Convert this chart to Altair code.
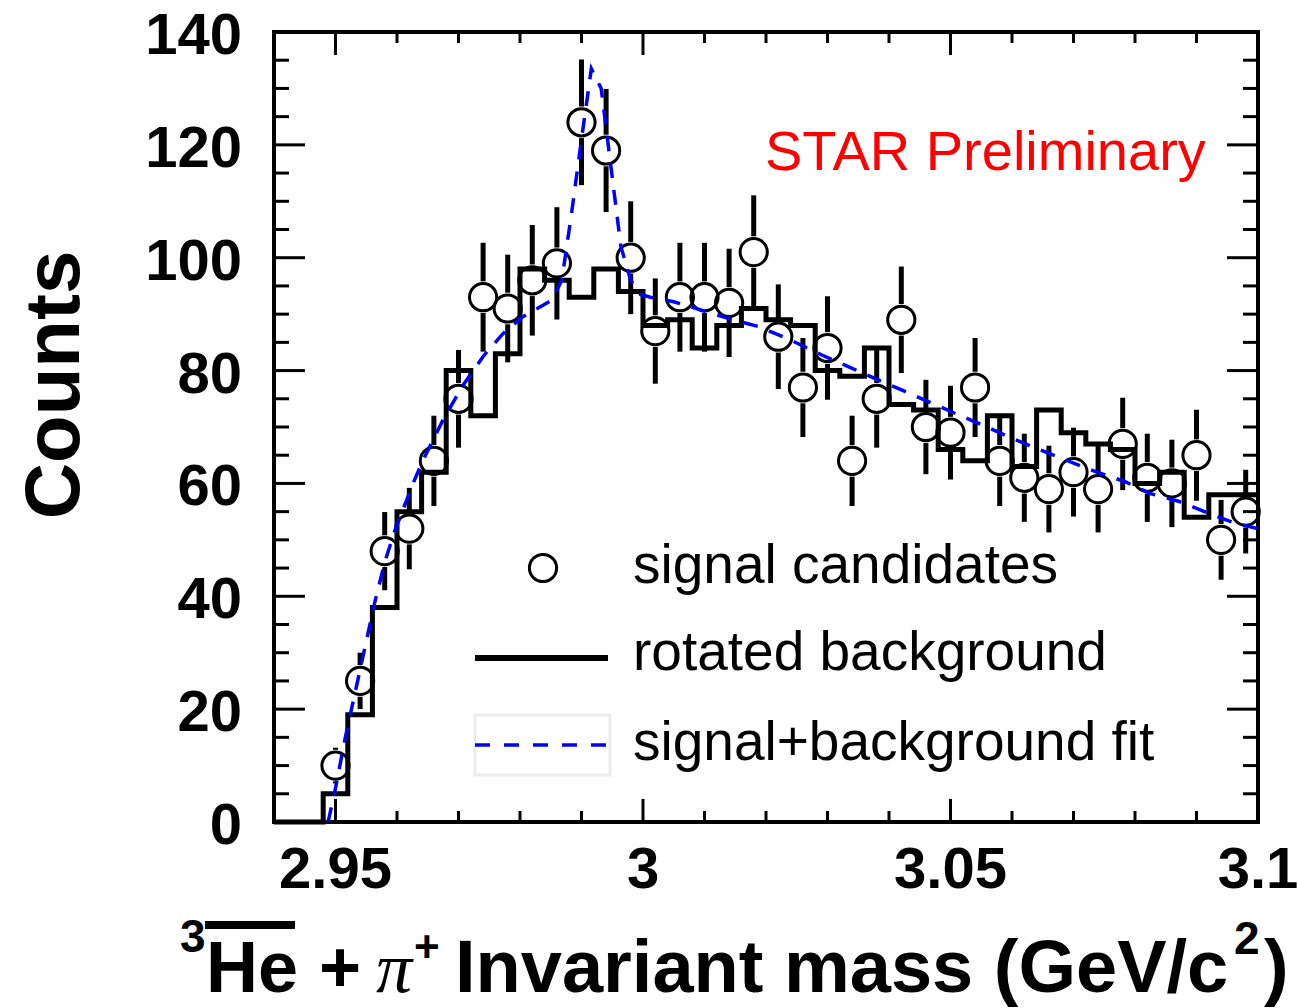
import altair as alt
import pandas as pd
import numpy as np

# ---------------- data ----------------
# rotated background histogram: lower bin edges (width 0.004 GeV/c^2) and counts
bkg_lo = [2.940, 2.944, 2.948, 2.952, 2.956, 2.960, 2.964, 2.968, 2.972, 2.976,
          2.980, 2.984, 2.988, 2.992, 2.996, 3.000, 3.004, 3.008, 3.012, 3.016,
          3.020, 3.024, 3.028, 3.032, 3.036, 3.040, 3.044, 3.048, 3.052, 3.056,
          3.060, 3.064, 3.068, 3.072, 3.076, 3.080, 3.084, 3.088, 3.092, 3.096]
bkg_counts = [0, 0, 5, 19, 38, 55, 62, 80, 72, 83,
              98, 96, 93, 98, 94, 88, 89, 84, 88, 91,
              89, 88, 80, 79, 84, 74, 73, 66, 64, 72,
              63, 73, 69, 67, 66, 60, 62, 54, 58, 58]
x_max = 3.1

# signal candidates (bin centres)
sig_mass = [2.950, 2.954, 2.958, 2.962, 2.966, 2.970, 2.974, 2.978, 2.982, 2.986,
            2.990, 2.994, 2.998, 3.002, 3.006, 3.010, 3.014, 3.018, 3.022, 3.026,
            3.030, 3.034, 3.038, 3.042, 3.046, 3.050, 3.054, 3.058, 3.062, 3.066,
            3.070, 3.074, 3.078, 3.082, 3.086, 3.090, 3.094, 3.098]
sig_counts = [10, 25, 48, 52, 64, 75, 93, 91, 96, 99,
              124, 119, 100, 87, 93, 93, 92, 101, 86, 77,
              84, 64, 75, 89, 70, 69, 77, 64, 61, 59,
              62, 59, 67, 61, 60, 65, 50, 55]

# signal + background fit (sampled points)
fit_mass = [2.9488, 2.9500, 2.9516, 2.9532, 2.9548, 2.9564, 2.9580, 2.9596, 2.9612, 2.9628,
            2.9644, 2.9660, 2.9676, 2.9692, 2.9708, 2.9724, 2.9740, 2.9756, 2.9772, 2.9788,
            2.9804, 2.9820, 2.9836, 2.9852, 2.9868, 2.9884, 2.9900, 2.9916, 2.9932, 2.9948,
            2.9964, 2.9980, 2.9996, 3.0012, 3.0050, 3.0095, 3.0140, 3.0188, 3.0240, 3.0290,
            3.0340, 3.0383, 3.0426, 3.0470, 3.0514, 3.0551, 3.0600, 3.0638, 3.0693, 3.0736,
            3.0784, 3.0825, 3.0872, 3.0913, 3.0964, 3.1000]
fit_counts = [0, 6, 15, 23, 31, 39, 46, 51.5, 56, 60.5,
              64.5, 68, 71.5, 74.5, 77.5, 80, 82.5, 84.5, 86.5, 88,
              89.5, 90.5, 91.5, 92.5, 96, 108, 121, 133.5, 130, 116,
              102, 96, 93.5, 93, 92.2, 90.7, 89.2, 87.8, 85.4, 82.8,
              80.4, 78.3, 76.3, 74.2, 72.1, 70.4, 68.0, 66.3, 63.9, 62.1,
              60.3, 58.2, 56.8, 55.0, 52.9, 52.0]

# axis ticks / labels
x_labels = [2.95, 3.0, 3.05, 3.1]
x_label_text = ["2.95", "3", "3.05", "3.1"]
x_major = [2.95, 3.0, 3.05]
x_minor = [2.96, 2.97, 2.98, 2.99, 3.01, 3.02, 3.03, 3.04, 3.06, 3.07, 3.08, 3.09]
y_labels = [0, 20, 40, 60, 80, 100, 120, 140]
y_label_text = ["0", "20", "40", "60", "80", "100", "120", "140"]
y_minor = [5, 10, 15, 25, 30, 35, 45, 50, 55, 65, 70, 75, 85, 90, 95,
           105, 110, 115, 125, 130, 135]

# ---------------- styling ----------------
W, H = 984, 790
FONT = "Liberation Sans"
GAP = 2.8  # error bar gap around marker, in counts
SYM = 740  # marker size

XS = alt.Scale(domain=[2.94, 3.1], nice=False, zero=False)
YS = alt.Scale(domain=[0, 140], nice=False, zero=False)


def xenc(field):
    return alt.X(field, scale=XS, axis=None)


def yenc(field):
    return alt.Y(field, scale=YS, axis=None)


# ---------------- tables ----------------
hist_df = pd.DataFrame({"x": bkg_lo + [x_max], "y": bkg_counts + [bkg_counts[-1]]})

sig = np.array(sig_counts, dtype=float)
err = np.sqrt(sig)
pts_df = pd.DataFrame({
    "x": sig_mass, "y": sig,
    "lo1": sig - err, "lo2": sig - GAP,
    "hi1": sig + GAP, "hi2": sig + err,
})
fit_df = pd.DataFrame({"x": fit_mass, "y": fit_counts})

hist = alt.Chart(hist_df).mark_line(
    interpolate="step-after", color="black", strokeWidth=5, strokeJoin="miter"
).encode(x=xenc("x:Q"), y=yenc("y:Q"))

err_up = alt.Chart(pts_df).mark_rule(color="black", strokeWidth=5).encode(
    x=xenc("x:Q"), y=yenc("hi1:Q"), y2="hi2:Q")
err_dn = alt.Chart(pts_df).mark_rule(color="black", strokeWidth=5).encode(
    x=xenc("x:Q"), y=yenc("lo2:Q"), y2="lo1:Q")

points = alt.Chart(pts_df).mark_point(
    shape="circle", size=SYM, filled=False, color="black", strokeWidth=3, opacity=1
).encode(x=xenc("x:Q"), y=yenc("y:Q"))

fit = alt.Chart(fit_df).mark_line(
    color="#0000ff", strokeWidth=3.5, strokeDash=[15, 12]
).encode(x=xenc("x:Q"), y=yenc("y:Q"))


# tick marks (inside the frame, on all four sides)
def xticks(vals, length):
    d = pd.DataFrame({"t": vals})
    bot = alt.Chart(d).mark_rule(color="black", strokeWidth=3).encode(
        x=xenc("t:Q"), y=alt.value(H), y2=alt.value(H - length))
    top = alt.Chart(d).mark_rule(color="black", strokeWidth=3).encode(
        x=xenc("t:Q"), y=alt.value(0), y2=alt.value(length))
    return [bot, top]


def yticks(vals, length):
    d = pd.DataFrame({"t": vals})
    left = alt.Chart(d).mark_rule(color="black", strokeWidth=3).encode(
        y=yenc("t:Q"), x=alt.value(0), x2=alt.value(length))
    right = alt.Chart(d).mark_rule(color="black", strokeWidth=3).encode(
        y=yenc("t:Q"), x=alt.value(W), x2=alt.value(W - length))
    return [left, right]


tick_layers = (xticks(x_major, 23) + xticks(x_minor, 11)
               + yticks(y_labels, 31) + yticks(y_minor, 15))

# tick labels
xlab = alt.Chart(pd.DataFrame({"v": x_labels, "s": x_label_text})).mark_text(
    align="center", baseline="alphabetic", font=FONT, fontSize=58,
    fontWeight="bold", color="black"
).encode(x=xenc("v:Q"), y=alt.value(856), text="s:N")
ylab = alt.Chart(pd.DataFrame({"v": y_labels, "s": y_label_text})).mark_text(
    align="right", baseline="alphabetic", font=FONT, fontSize=58,
    fontWeight="bold", color="black", dy=22
).encode(y=yenc("v:Q"), x=alt.value(-32), text="s:N")


# text helper
def txt(s, x, y, size, weight="normal", color="black", font=FONT, angle=0,
        align="left", style="normal"):
    return alt.Chart(pd.DataFrame({"t": [s]})).mark_text(
        align=align, baseline="alphabetic", font=font, fontSize=size,
        fontWeight=weight, color=color, angle=angle, fontStyle=style
    ).encode(text="t:N", x=alt.value(x), y=alt.value(y))


# legend
leg_pt = alt.Chart(pd.DataFrame({"t": ["signal candidates"]})).mark_point(
    shape="circle", size=SYM, filled=False, color="black", strokeWidth=3, opacity=1
).encode(x=alt.value(269), y=alt.value(536))
leg_line = alt.Chart(pd.DataFrame({"t": ["rotated background"]})).mark_rule(
    color="black", strokeWidth=6).encode(x=alt.value(201), x2=alt.value(334), y=alt.value(626))
leg_box = alt.Chart(pd.DataFrame({"t": ["box"]})).mark_rect(
    fill="white", fillOpacity=0, stroke="#ececec", strokeWidth=3).encode(
    x=alt.value(201), x2=alt.value(336), y=alt.value(683), y2=alt.value(743))
leg_dash = alt.Chart(pd.DataFrame({"t": ["signal+background fit"]})).mark_rule(
    color="#0000ff", strokeWidth=3.5, strokeDash=[15, 14]).encode(
    x=alt.value(201), x2=alt.value(334), y=alt.value(713))

TB = 960  # x-title baseline (view coords)
texts = [
    txt("signal candidates", 359, 551, 55),
    txt("rotated background", 359, 638, 55),
    txt("signal+background fit", 359, 728, 55),
    txt("STAR Preliminary", 491, 138, 56, color="#ff0000"),
    txt("Counts", -195, 353, 78, weight="bold", angle=270, align="center"),
    # x-axis title pieces:  3He(bar) + pi+ Invariant mass (GeV/c2)
    txt("3", -94, TB - 40, 46, weight="bold"),
    txt("He", -68, TB, 72, weight="bold"),
    txt("+", 45, TB, 72, weight="bold"),
    txt("\u03c0", 102, TB, 72, font="Liberation Serif", style="italic"),
    txt("+", 140, TB - 30, 44, weight="bold"),
    txt("Invariant mass (GeV/c", 181, TB, 74, weight="bold"),
    txt("2", 960, TB - 38, 46, weight="bold"),
    txt(")", 990, TB, 74, weight="bold"),
]
overline = alt.Chart(pd.DataFrame({"t": ["bar"]})).mark_rule(
    color="black", strokeWidth=8).encode(x=alt.value(-69), x2=alt.value(21), y=alt.value(TB - 67))

chart = alt.layer(
    hist, err_up, err_dn, points, fit, *tick_layers, xlab, ylab,
    leg_box, leg_pt, leg_line, leg_dash, overline, *texts
).properties(
    width=W, height=H,
    autosize=alt.AutoSizeParams(type="none"),
    padding={"left": 274, "top": 32, "right": 39, "bottom": 186},
    background="white",
).configure_view(stroke="black", strokeWidth=4)

chart.save("out.html", embed_options={"renderer": "svg", "actions": False})
